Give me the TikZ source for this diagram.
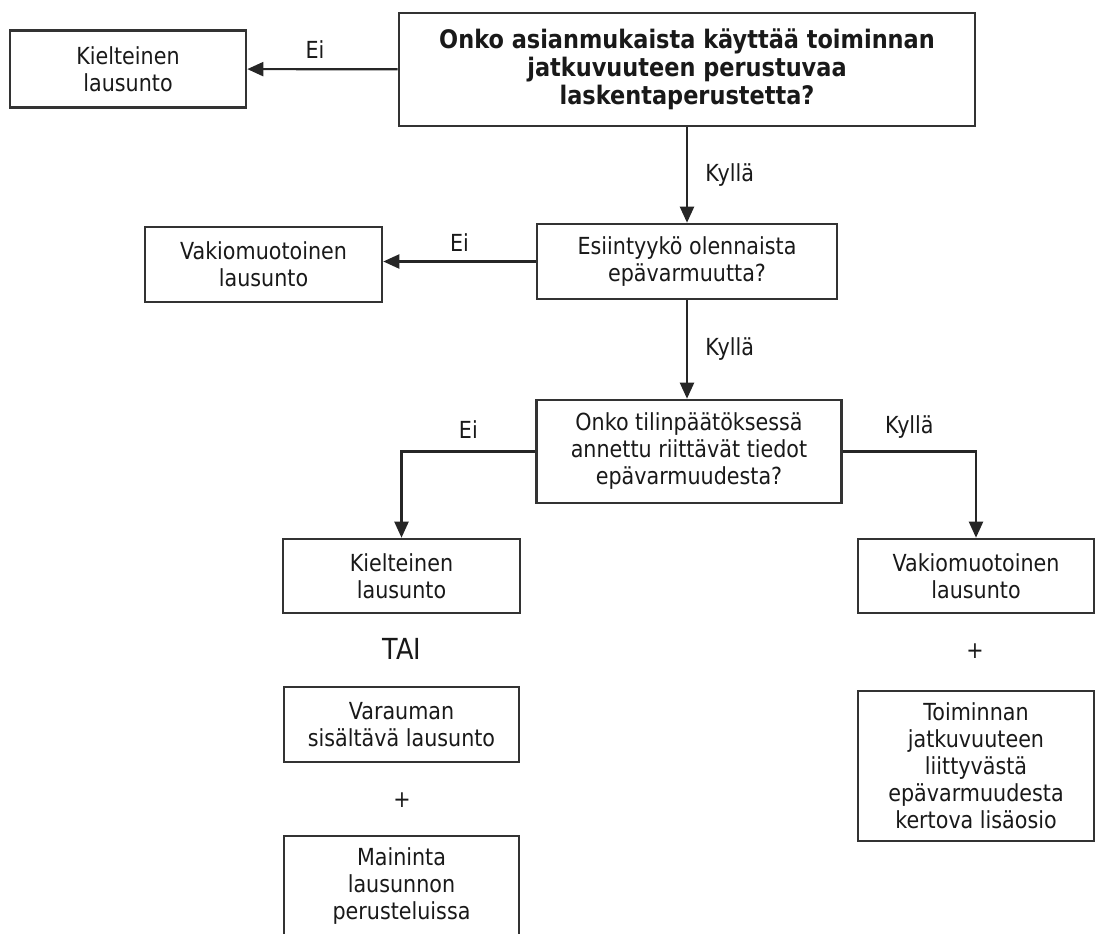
\documentclass[tikz,border=0pt]{standalone}
\usepackage{fontspec}
\setmainfont{DejaVu Sans}[FakeStretch=0.88]
\usetikzlibrary{arrows.meta}

\begin{document}
\begin{tikzpicture}[x=1pt,y=-1pt,
  box/.style={draw=black!80,line width=2.6pt,align=center,inner sep=0pt,text=black!90,font=\fontsize{23.5}{27}\selectfont},
  lbl/.style={text=black!90,font=\fontsize{23.5}{27}\selectfont},
  arr/.style={draw=black!85,line width=2.2pt,-{Triangle[length=16pt,width=14pt]}}]
\clip (0,0) rectangle (1096,934);

% Questions
\node[box,minimum width=576pt,minimum height=113pt,font=\bfseries\fontsize{25.5}{28}\selectfont] (q1) at (687,69.5) {Onko asianmukaista käyttää toiminnan\\jatkuvuuteen perustuvaa\\laskentaperustetta?};
\node[box,minimum width=300pt,minimum height=75pt] (q2) at (687,261.5) {Esiintyykö olennaista\\epävarmuutta?};
\node[box,minimum width=305pt,minimum height=103pt] (q3) at (689,451.5) {Onko tilinpäätöksessä\\annettu riittävät tiedot\\epävarmuudesta?};

% Answers
\node[box,minimum width=236pt,minimum height=77pt] (kielt1) at (128,69) {Kielteinen\\lausunto};
\node[box,minimum width=237pt,minimum height=75pt] (vakio1) at (263.5,264.5) {Vakiomuotoinen\\lausunto};
\node[box,minimum width=237pt,minimum height=74pt] (kielt2) at (401.5,576) {Kielteinen\\lausunto};
\node[box,minimum width=236pt,minimum height=74pt] (vakio2) at (976,576) {Vakiomuotoinen\\lausunto};
\node[text=black!90,font=\fontsize{29}{32}\selectfont] (tai) at (402,649) {TAI};
\node[box,minimum width=235pt,minimum height=75pt] (varaus) at (401.5,724.5) {Varauman\\sisältävä lausunto};
\node[lbl] (plus1) at (402,800) {+};
\node[box,minimum width=235pt,minimum height=101pt] (mainin) at (401.5,886.5) {Maininta\\lausunnon\\perusteluissa};
\node[lbl] (plus2) at (975,651) {+};
\node[box,minimum width=236pt,minimum height=150pt] (lisa) at (976,766) {Toiminnan\\jatkuvuuteen\\liittyvästä\\epävarmuudesta\\kertova lisäosio};

% Arrows
\draw[arr] (q1) -- node[lbl,pos=0.55,above=6pt] {Ei} (kielt1);
\draw[arr] (q1) -- node[lbl,right=14pt] {Kyllä} (q2);
\draw[arr] (q2.west) -- node[lbl,above=6pt] {Ei} (q2.west -| vakio1.east);
\draw[arr] (q2.south) -- node[lbl,right=14pt] {Kyllä} (q2.south |- q3.north);
\draw[arr] (q3.west) -| node[lbl,pos=0.25,above=9pt] {Ei} (kielt2.north);
\draw[arr] (q3.east) -| node[lbl,pos=0.25,above=9pt] {Kyllä} (vakio2.north);
\end{tikzpicture}
\end{document}
